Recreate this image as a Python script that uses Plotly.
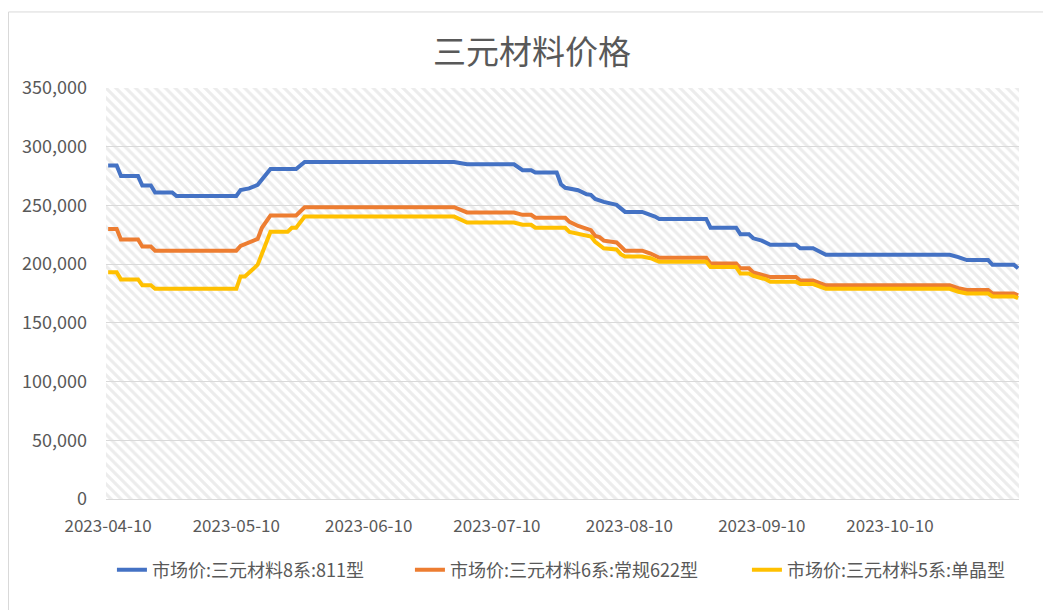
import plotly.graph_objects as go

# ---------------- data ----------------
blue_dates = ["2023-04-10", "2023-04-12", "2023-04-13", "2023-04-17", "2023-04-18", "2023-04-20",
              "2023-04-21", "2023-04-25", "2023-04-26", "2023-05-10", "2023-05-11", "2023-05-12",
              "2023-05-13", "2023-05-15", "2023-05-17", "2023-05-18", "2023-05-24", "2023-05-26",
              "2023-06-30", "2023-07-03", "2023-07-14", "2023-07-16", "2023-07-18", "2023-07-19",
              "2023-07-24", "2023-07-25", "2023-07-26", "2023-07-27", "2023-07-29", "2023-07-31",
              "2023-08-01", "2023-08-02", "2023-08-04", "2023-08-07", "2023-08-08", "2023-08-09",
              "2023-08-13", "2023-08-15", "2023-08-16", "2023-08-17", "2023-08-28", "2023-08-29",
              "2023-09-04", "2023-09-05", "2023-09-07", "2023-09-08", "2023-09-10", "2023-09-12",
              "2023-09-18", "2023-09-19", "2023-09-22", "2023-09-25", "2023-10-24", "2023-10-26",
              "2023-10-28", "2023-11-02", "2023-11-03", "2023-11-08", "2023-11-09"]
blue_values = [284000, 284000, 275000, 275000, 267000, 267000,
               261000, 261000, 258000, 258000, 263000, 263500,
               264500, 267500, 276000, 281000, 281000, 287000,
               287000, 285000, 285000, 280000, 280000, 278000,
               278000, 268000, 265000, 264500, 263000, 259500,
               259000, 255500, 253000, 250500, 247500, 244500,
               244500, 242000, 240500, 238500, 238500, 231000,
               231000, 225500, 225500, 222000, 220000, 216500,
               216500, 213500, 213500, 208000, 208000, 206000,
               203500, 203500, 199500, 199500, 196500]

orange_dates = ["2023-04-10", "2023-04-12", "2023-04-13", "2023-04-17", "2023-04-18", "2023-04-20",
                "2023-04-21", "2023-05-10", "2023-05-11", "2023-05-12", "2023-05-13", "2023-05-15",
                "2023-05-16", "2023-05-18", "2023-05-24", "2023-05-26", "2023-06-30", "2023-07-03",
                "2023-07-14", "2023-07-16", "2023-07-18", "2023-07-19", "2023-07-26", "2023-07-27",
                "2023-07-29", "2023-07-31", "2023-08-01", "2023-08-02", "2023-08-03", "2023-08-04",
                "2023-08-07", "2023-08-08", "2023-08-09", "2023-08-13", "2023-08-15", "2023-08-17",
                "2023-08-28", "2023-08-29", "2023-09-04", "2023-09-05", "2023-09-07", "2023-09-08",
                "2023-09-11", "2023-09-12", "2023-09-18", "2023-09-19", "2023-09-22", "2023-09-25",
                "2023-10-24", "2023-10-26", "2023-10-28", "2023-11-02", "2023-11-03", "2023-11-08",
                "2023-11-09"]
orange_values = [230000, 230000, 221000, 221000, 215000, 215000,
                 211500, 211500, 215500, 217000, 218500, 221500,
                 231000, 241500, 241500, 248500, 248500, 244000,
                 244000, 242000, 242000, 239500, 239500, 236000,
                 232500, 230500, 229000, 224000, 223000, 220000,
                 218500, 215000, 211500, 211500, 209000, 205500,
                 205500, 200500, 200500, 196500, 196500, 193000,
                 189500, 189000, 189000, 186000, 186000, 182000,
                 182000, 179500, 178000, 178000, 175000, 175000,
                 173500]

yellow_dates = ["2023-04-10", "2023-04-12", "2023-04-13", "2023-04-17", "2023-04-18", "2023-04-20",
                "2023-04-21", "2023-05-10", "2023-05-11", "2023-05-12", "2023-05-14", "2023-05-15",
                "2023-05-18", "2023-05-22", "2023-05-23", "2023-05-24", "2023-05-26", "2023-06-30",
                "2023-07-03", "2023-07-14", "2023-07-16", "2023-07-18", "2023-07-19", "2023-07-26",
                "2023-07-27", "2023-07-29", "2023-07-31", "2023-08-01", "2023-08-02", "2023-08-04",
                "2023-08-07", "2023-08-08", "2023-08-09", "2023-08-13", "2023-08-15", "2023-08-17",
                "2023-08-28", "2023-08-29", "2023-09-04", "2023-09-05", "2023-09-07", "2023-09-08",
                "2023-09-11", "2023-09-12", "2023-09-18", "2023-09-19", "2023-09-22", "2023-09-25",
                "2023-10-24", "2023-10-26", "2023-10-28", "2023-11-02", "2023-11-03", "2023-11-08",
                "2023-11-09"]
yellow_values = [193000, 193000, 187000, 187000, 182000, 182000,
                 179000, 179000, 189500, 189500, 196000, 199500,
                 227500, 227500, 231000, 231000, 240500, 240500,
                 235500, 235500, 233500, 233500, 231000, 231000,
                 227500, 226000, 224000, 223500, 219000, 213500,
                 212500, 208500, 206500, 206500, 205000, 202000,
                 202000, 197500, 197500, 192000, 192000, 190000,
                 187000, 185000, 185000, 183000, 183000, 179000,
                 179000, 176500, 175000, 175000, 172500, 172500,
                 171000]

series_names = ["市场价:三元材料8系:811型", "市场价:三元材料6系:常规622型", "市场价:三元材料5系:单晶型"]
series_colors = ["#4472C4", "#ED7D31", "#FFC000"]

x_tick_vals = ["2023-04-10", "2023-05-10", "2023-06-10", "2023-07-10",
               "2023-08-10", "2023-09-10", "2023-10-10"]
x_tick_text = ["2023-04-10", "2023-05-10", "2023-06-10", "2023-07-10",
               "2023-08-10", "2023-09-10", "2023-10-10"]
y_tick_vals = [0, 50000, 100000, 150000, 200000, 250000, 300000, 350000]
y_tick_text = ["0", "50,000", "100,000", "150,000", "200,000", "250,000", "300,000", "350,000"]

title_text = "三元材料价格"

# ---------------- figure ----------------
# the page body adds an 8px offset, so the figure is drawn 8px smaller
W, H = 1043, 602
X_RANGE = ["2023-04-09 12:00", "2023-11-09 05:00"]
Y_RANGE = [0, 350000]
FONT = "Noto Sans CJK SC, Noto Sans, sans-serif"
TXT = "#595959"

fig = go.Figure()

# hatched plot-area background
fig.add_trace(go.Scatter(
    x=[X_RANGE[0], X_RANGE[1], X_RANGE[1], X_RANGE[0], X_RANGE[0]],
    y=[Y_RANGE[0], Y_RANGE[0], Y_RANGE[1], Y_RANGE[1], Y_RANGE[0]],
    mode="lines", line=dict(width=0), fill="toself",
    fillcolor="rgba(0,0,0,0)",
    fillpattern=dict(shape="\\", fgcolor="#d9d9d9", bgcolor="rgba(0,0,0,0)",
                     size=7, solidity=0.45),
    hoverinfo="skip", showlegend=False,
))

legend_ids = ["legend", "legend2", "legend3"]
for d, v, name, col, lg in [
    (blue_dates, blue_values, series_names[0], series_colors[0], legend_ids[0]),
    (orange_dates, orange_values, series_names[1], series_colors[1], legend_ids[1]),
    (yellow_dates, yellow_values, series_names[2], series_colors[2], legend_ids[2]),
]:
    fig.add_trace(go.Scatter(x=d, y=v, name=name, mode="lines", legend=lg,
                             line=dict(color=col, width=4)))

def leg(xpos):
    return dict(orientation="h", x=xpos, xanchor="left", y=-0.1727, yanchor="middle",
                font=dict(size=18, color=TXT, family=FONT), bgcolor="rgba(0,0,0,0)")

fig.update_layout(
    width=W, height=H,
    margin=dict(l=98, r=32, t=80, b=111),
    paper_bgcolor="white", plot_bgcolor="white",
    font=dict(family=FONT, color=TXT),
    title=dict(text=title_text, font=dict(size=33, color=TXT, family=FONT),
               x=524 / W, xref="container", xanchor="center",
               y=1 - 44 / H, yref="container", yanchor="middle"),
    xaxis=dict(type="date", range=X_RANGE, tickvals=x_tick_vals, ticktext=x_tick_text,
               showgrid=False, zeroline=False, showline=True, linecolor="#d9d9d9",
               linewidth=1, ticks="", tickfont=dict(size=17, color=TXT),
               ticklabelstandoff=12),
    yaxis=dict(range=Y_RANGE, tickvals=y_tick_vals, ticktext=y_tick_text,
               showgrid=True, gridcolor="#d9d9d9", gridwidth=1, zeroline=False,
               showline=False, ticks="", tickfont=dict(size=18, color=TXT),
               ticklabelstandoff=18),
    legend=leg(0.0065),
    legend2=leg(0.3329),
    legend3=leg(0.702),
    showlegend=True,
    shapes=[dict(type="rect", xref="paper", yref="paper",
                 x0=-0.1068, x1=1.2, y0=-0.4, y1=1.185,
                 line=dict(color="#d9d9d9", width=1), layer="below")],
)

fig.write_html("out.html")
